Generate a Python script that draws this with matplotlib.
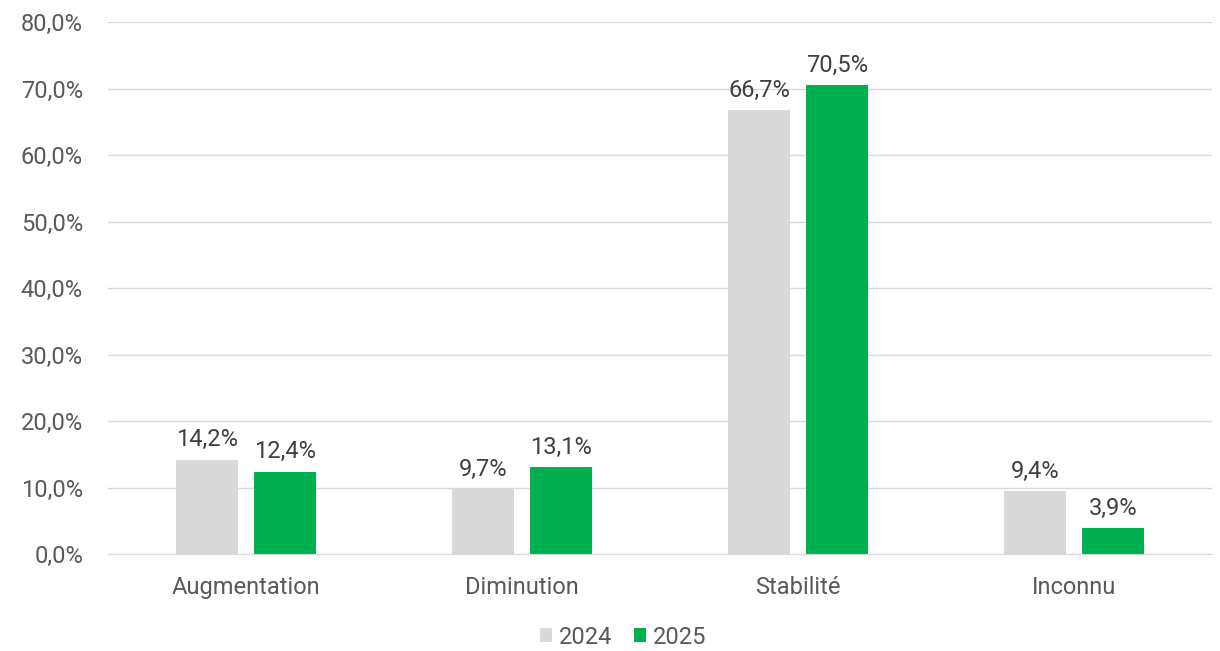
import matplotlib
matplotlib.use("Agg")
import matplotlib.pyplot as plt
import numpy as np

categories = ["Augmentation", "Diminution", "Stabilité", "Inconnu"]
series_names = ["2024", "2025"]
values_2024 = [14.2, 9.7, 66.7, 9.4]
values_2025 = [12.4, 13.1, 70.5, 3.9]
y_ticks = [0, 10, 20, 30, 40, 50, 60, 70, 80]

colors = ["#d9d9d9", "#00b050"]
text_grey = "#595959"
label_dark = "#404040"

plt.rcParams["font.family"] = ["Roboto", "DejaVu Sans"]
FS = 17

fig = plt.figure(figsize=(12.2, 6.51), dpi=100)
ax = fig.add_axes([108 / 1220, 97 / 651, 1104 / 1220, 532 / 651])

x = np.arange(len(categories))
width = 62 / 276
offset = 78 / 2 / 276

fmt = lambda v: f"{v:.1f}".replace(".", ",") + "%"

for vals, name, col, dx in [(values_2024, series_names[0], colors[0], -offset),
                            (values_2025, series_names[1], colors[1], offset)]:
    bars = ax.bar(x + dx, vals, width=width, color=col, label=name, zorder=3)
    for b, v in zip(bars, vals):
        ax.annotate(fmt(v), (b.get_x() + b.get_width() / 2, v),
                    xytext=(0, 6), textcoords="offset points",
                    ha="center", va="bottom", fontsize=FS, color=label_dark)

ax.set_xlim(-0.5, len(categories) - 0.5)
ax.set_ylim(0, 80)
ax.set_yticks(y_ticks)
ax.set_yticklabels([f"{t:.1f}".replace(".", ",") + "%" for t in y_ticks])
ax.set_xticks(x)
ax.set_xticklabels(categories)
ax.tick_params(axis="both", length=0, labelsize=FS, colors=text_grey)
ax.tick_params(axis="y", pad=18)
ax.tick_params(axis="x", pad=16)
ax.yaxis.grid(True, color="#d9d9d9", linewidth=1, zorder=0)
for s in ["top", "right", "left"]:
    ax.spines[s].set_visible(False)
ax.spines["bottom"].set_color("#d9d9d9")
ax.spines["bottom"].set_zorder(4)

leg = fig.legend(loc="center", bbox_to_anchor=(623 / 1220, 1 - 637 / 651), ncol=2,
                 frameon=False, fontsize=FS, handlelength=0.52, handleheight=0.52,
                 handletextpad=0.3, columnspacing=0.9)
for t in leg.get_texts():
    t.set_color(text_grey)

fig.savefig("out.png", dpi=100)
